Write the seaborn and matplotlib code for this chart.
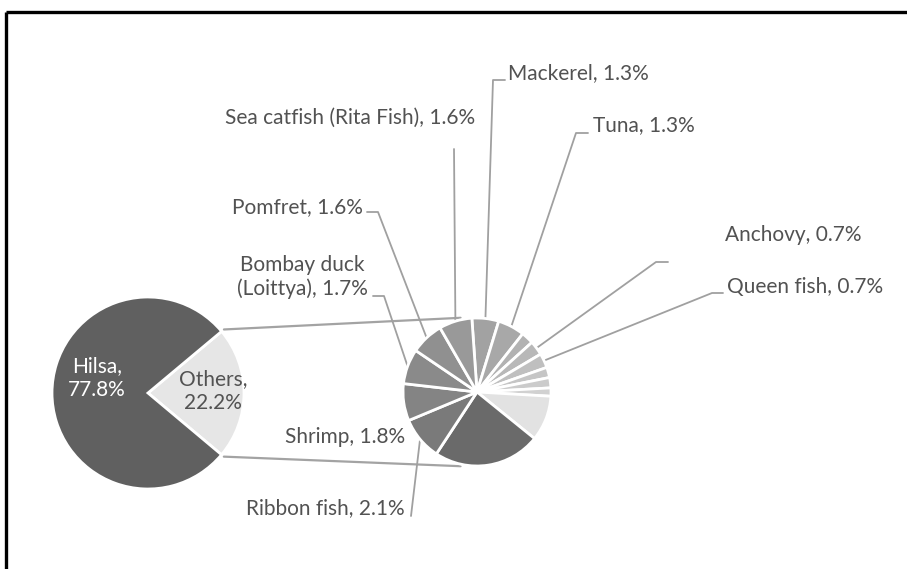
import numpy as np
import matplotlib
matplotlib.use("Agg")
import matplotlib.pyplot as plt
import seaborn as sns

# ---------------- data ----------------
main_labels = ["Others", "Hilsa"]
main_values = [22.2, 77.8]

sub_labels = ["Mackerel", "Tuna", "", "Anchovy", "Queen fish", "", "", "",
              "", "", "Ribbon fish", "Shrimp", "Bombay duck\n(Loittya)",
              "Pomfret", "Sea catfish (Rita Fish)"]
sub_values = [1.3, 1.3, 0.6, 0.7, 0.7, 0.5, 0.5, 0.4,
              2.2, 5.2, 2.1, 1.8, 1.7, 1.6, 1.6]

# ---------------- style ----------------
sns.set_theme(style="white")
plt.rcParams["font.family"] = ["Lato", "DejaVu Sans"]

main_colors = ["#e6e6e6", "#606060"]
sub_colors = ["#a2a2a2", "#a8a8a8", "#b2b2b2", "#b8b8b8", "#bfbfbf", "#c5c5c5",
              "#cbcbcb", "#d1d1d1", "#e2e2e2", "#6a6a6a", "#7a7a7a", "#848484",
              "#8a8a8a", "#909090", "#999999"]
TXT = "#525252"
LEAD = "#a0a0a0"
FS = 15

W, H = 907, 569
fig = plt.figure(figsize=(W / 100, H / 100), dpi=100)
ax = fig.add_axes([0, 0, 1, 1])

def Y(y):
    return H - y

c1 = (148, Y(393)); r1 = 96
c2 = (477, Y(392)); r2 = 74

w1, _ = ax.pie(main_values, colors=main_colors, startangle=-40, counterclock=True,
               center=c1, radius=r1,
               wedgeprops=dict(edgecolor="white", linewidth=2))
w2, _ = ax.pie(sub_values, colors=sub_colors, startangle=94, counterclock=False,
               center=c2, radius=r2,
               wedgeprops=dict(edgecolor="white", linewidth=2))

# connector lines between the two pies
ow = w1[0]
for ang, ang2 in [(ow.theta2, 102.5), (ow.theta1, 257.5)]:
    p1 = (c1[0] + (r1 + 3) * np.cos(np.radians(ang)), c1[1] + (r1 + 3) * np.sin(np.radians(ang)))
    p2 = (c2[0] + (r2 + 2) * np.cos(np.radians(ang2)), c2[1] + (r2 + 2) * np.sin(np.radians(ang2)))
    ax.plot([p1[0], p2[0]], [p1[1], p2[1]], color="#a3a3a3", lw=1.6, zorder=0)

# main pie labels
ax.text(97, Y(378), f"{main_labels[1]},\n{main_values[1]:.1f}%", color="white",
        ha="center", va="center", fontsize=FS, linespacing=1.3)
ax.text(213, Y(391), f"{main_labels[0]},\n{main_values[0]:.1f}%", color=TXT,
        ha="center", va="center", fontsize=FS, linespacing=1.2)

def anchor(i, frac=1.0):
    w = w2[i]
    m = np.radians((w.theta1 + w.theta2) / 2)
    return (c2[0] + r2 * frac * np.cos(m), c2[1] + r2 * frac * np.sin(m))

# label layout: index -> (text x, text y, ha, leader elbow points in pixels)
layout = {
    0: (508, 73, "left", [(505, 80), (493, 80)]),
    1: (593, 125, "left", [(588, 133), (576, 133)]),
    3: (725, 235, "left", [(668, 262), (656, 262)]),
    4: (727, 287, "left", [(723, 293), (712, 293)]),
    10: (405, 508, "right", [(411, 516)]),
    11: (405, 437, "right", None),
    12: (302, 277, "center", [(373, 296), (384, 296)]),
    13: (363, 207, "right", [(367, 212), (378, 212)]),
    14: (475, 118, "right", [(454, 149)]),
}
for i, (tx, ty, ha, elbow) in layout.items():
    ax.text(tx, Y(ty), f"{sub_labels[i]}, {sub_values[i]:.1f}%", color=TXT,
            ha=ha, va="center", fontsize=FS, linespacing=1.2,
            multialignment="center")
    if elbow:
        a = anchor(i)
        xs = [p[0] for p in elbow] + [a[0]]
        ys = [Y(p[1]) for p in elbow] + [a[1]]
        ax.plot(xs, ys, color=LEAD, lw=1.3, zorder=0.5)

# frame lines (top and left)
ax.plot([6, W], [Y(12), Y(12)], color="black", lw=2.4, solid_capstyle="butt")
ax.plot([6, 6], [Y(12), 0], color="black", lw=2.4, solid_capstyle="butt")

ax.set_xlim(0, W)
ax.set_ylim(0, H)
ax.set_aspect("equal")
ax.axis("off")
fig.savefig("out.png", dpi=100, facecolor="white")
